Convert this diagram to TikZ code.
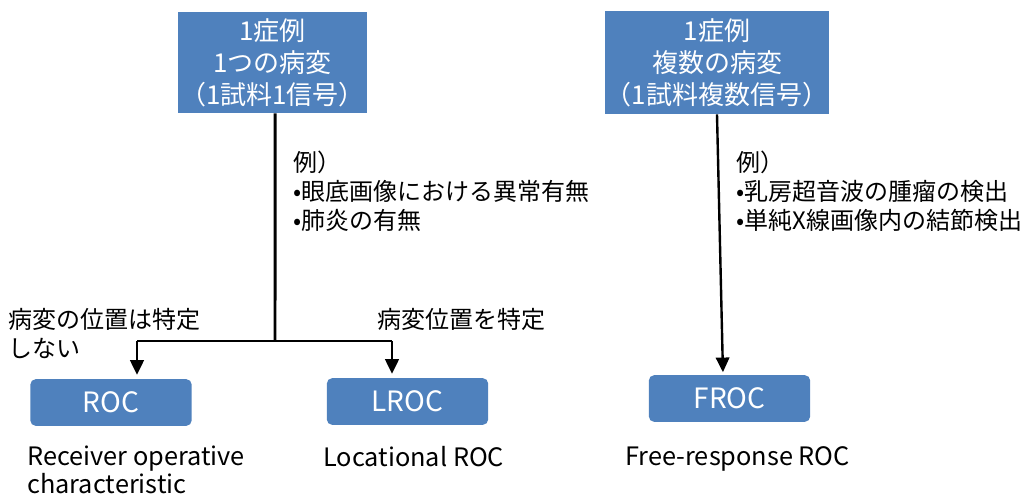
\documentclass[tikz,border=0pt]{standalone}
\usepackage{fontspec}
\setmainfont{Noto Sans CJK JP}
\usetikzlibrary{positioning, arrows.meta, calc}
\definecolor{boxblue}{HTML}{4F81BD}

\begin{document}
\begin{tikzpicture}[
  x=0.75pt, y=-0.75pt,
  every node/.style={font=\fontsize{18}{21.75}\selectfont},
  cbox/.style={fill=boxblue, text=white, align=center, inner sep=0pt,
    font=\fontsize{19.5}{24}\selectfont},
  mbox/.style={fill=boxblue, text=white, rounded corners=4pt, inner sep=0pt,
    minimum width=121pt, minimum height=35pt,
    font=\fontsize{21}{24}\selectfont},
  note/.style={align=left, inner sep=0pt, anchor=north west,
    font=\fontsize{18}{21.75}\selectfont},
  mname/.style={align=left, inner sep=0pt, anchor=north west,
    font=\fontsize{19}{20.5}\selectfont},
  arr/.style={-{Triangle[length=11pt, width=10pt]}, line width=2.2pt},
]
\useasboundingbox (0,0) rectangle (1035,494);

%% ---- Case boxes ----
\node[cbox, minimum width=141.75pt, minimum height=75.75pt] (single) at (272.5,62.5)
  {1症例\\1つの病変\\（1試料1信号）};
\node[cbox, minimum width=168pt, minimum height=77.25pt] (multi) at (717,62.5)
  {1症例\\複数の病変\\（1試料複数信号）};

%% ---- Method boxes ----
\node[mbox] (roc)  at (111,402.5)   {ROC};
\node[mbox] (lroc) at (407.5,401.5) {LROC};
\node[mbox] (froc) at (729.5,398.5) {FROC};

%% ---- Single lesion: fork to ROC / LROC ----
\coordinate (fork)  at (275,341);
\coordinate (forkL) at (137,341);
\coordinate (forkR) at (392,341);
\draw[line width=2.2pt] ([xshift=2pt]single.south) -- (fork);
\draw[line width=2.2pt] (forkL) -- (forkR);
\draw[arr, shorten >=3pt] (forkL) -- (forkL |- roc.north);
\draw[arr, shorten >=3pt] (forkR) -- (forkR |- lroc.north);

%% ---- Multiple lesions: to FROC ----
\draw[arr, line width=1.8pt, shorten >=2pt] (multi.south) -- ($(froc.north)+(-6.5,0)$);

%% ---- Examples ----
\node[note] (exL) at (293,151)
  {例）\\•眼底画像における異常有無\\•肺炎の有無};
\node[note] (exR) at (736,151)
  {例）\\•乳房超音波の腫瘤の検出\\•単純X線画像内の結節検出};

%% ---- Branch labels ----
\node[note] (nopos) at (8,308) {病変の位置は特定\\しない};
\node[note] (pos) at (377,308) {病変位置を特定};

%% ---- Method names ----
\node[mname] (rocname)  at (27,446)  {Receiver operative\\characteristic};
\node[mname] (lrocname) at (323,446) {Locational ROC};
\node[mname] (frocname) at (625,446) {Free-response ROC};

\end{tikzpicture}
\end{document}
